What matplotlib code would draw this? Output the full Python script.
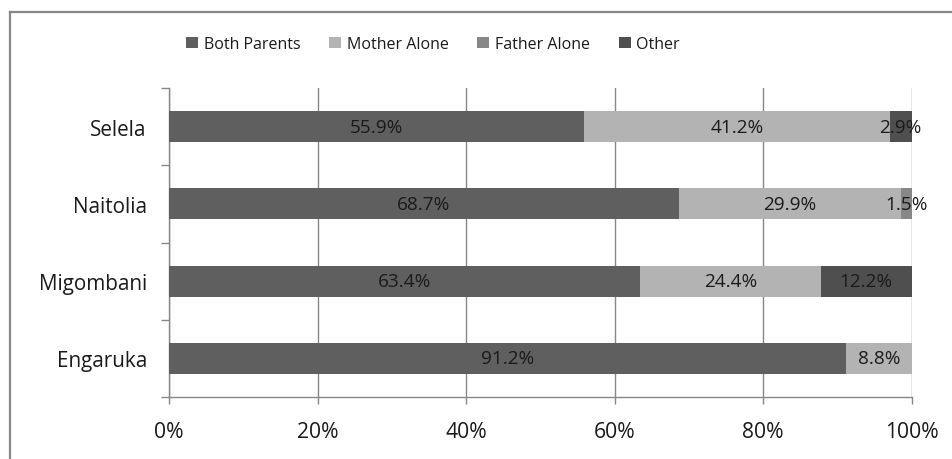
import matplotlib
matplotlib.use("Agg")
import matplotlib.pyplot as plt
import numpy as np

plt.rcParams['font.family'] = ['Open Sans', 'DejaVu Sans']

categories = ["Engaruka", "Migombani", "Naitolia", "Selela"]
series_names = ["Both Parents", "Mother Alone", "Father Alone", "Other"]
both_parents = [91.2, 63.4, 68.7, 55.9]
mother_alone = [8.8, 24.4, 29.9, 41.2]
father_alone = [0.0, 0.0, 1.5, 0.0]
other = [0.0, 12.2, 0.0, 2.9]
x_ticks = [0, 20, 40, 60, 80, 100]
x_tick_labels = ["0%", "20%", "40%", "60%", "80%", "100%"]

colors = ["#5f5f5f", "#b3b3b3", "#878787", "#4f4f4f"]
values = [both_parents, mother_alone, father_alone, other]

fig = plt.figure(figsize=(9.52, 4.6), dpi=100)
ax = fig.add_axes([169/952, 1-398/460, (911.5-169)/952, (398-89)/460])

y = np.arange(len(categories))
left = np.zeros(len(categories))
for name, vals, c in zip(series_names, values, colors):
    vals = np.array(vals)
    bars = ax.barh(y, vals, left=left, height=0.4, color=c, label=name, zorder=3)
    labels = [f"{v:.1f}%" if v > 0 else "" for v in vals]
    ax.bar_label(bars, labels=labels, label_type='center', fontsize=13.7, color='#1a1a1a', zorder=4)
    left += vals

ax.set_xlim(0, 100)
ax.set_ylim(-0.5, len(categories) - 0.5)
ax.set_xticks(x_ticks)
ax.set_xticklabels(x_tick_labels)
ax.set_yticks(np.arange(len(categories) + 1) - 0.5)
ax.set_yticklabels([])
ax.set_yticks(y, minor=True)
ax.set_yticklabels(categories, minor=True)

ax.tick_params(axis='y', which='major', length=6, color='#878787', width=1)
ax.tick_params(axis='y', which='minor', length=0, pad=16, labelsize=14.9, labelcolor='#1a1a1a')
ax.tick_params(axis='x', which='major', length=5, color='#878787', width=1, pad=12.5, labelsize=15.2, labelcolor='#1a1a1a')

ax.grid(axis='x', color='#878787', linewidth=1, zorder=1)
for s in ['top', 'right']:
    ax.spines[s].set_visible(False)
for s in ['left', 'bottom']:
    ax.spines[s].set_color('#878787')
    ax.spines[s].set_linewidth(1)

fig.legend(loc='center', bbox_to_anchor=(433/952, 1-45/460), ncol=4, frameon=False,
           handlelength=0.75, handleheight=0.75, handletextpad=0.35, columnspacing=1.8,
           fontsize=11.5, labelcolor='#1a1a1a')

# outer border (top and left visible)
fig.add_artist(plt.Line2D([10/952, 10/952], [0, 1-12.5/460], transform=fig.transFigure, color='#878787', linewidth=1.6))
fig.add_artist(plt.Line2D([10/952, 1], [1-12.5/460, 1-12.5/460], transform=fig.transFigure, color='#878787', linewidth=1.6))

fig.savefig("out.png", dpi=100)
